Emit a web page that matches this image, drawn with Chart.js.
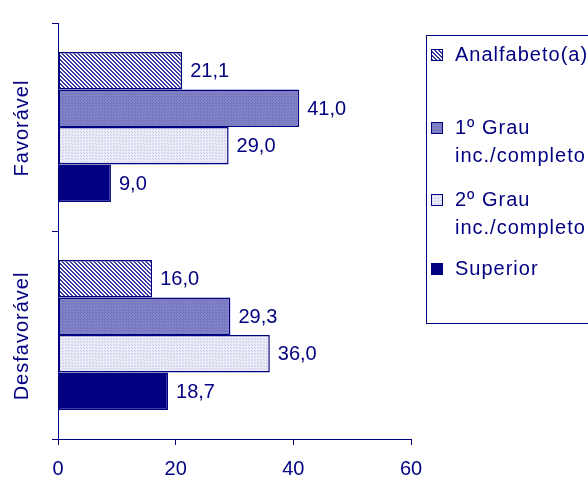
<!DOCTYPE html>
<html>
<head>
<meta charset="utf-8">
<script src="https://cdn.jsdelivr.net/npm/chart.js@4"></script>
<style>
  html, body { margin: 0; padding: 0; background: #fff; }
  #wrap { width: 588px; height: 477px; }
</style>
</head>
<body>
<div id="wrap"><canvas id="c" width="588" height="477"></canvas></div>
<script>
const categories = ["Favorável", "Desfavorável"];
const seriesNames = [["Analfabeto(a)"], ["1º Grau", "inc./completo"], ["2º Grau", "inc./completo"], ["Superior"]];
const analfabeto = [21.1, 16.0];
const grau1 = [41.0, 29.3];
const grau2 = [29.0, 36.0];
const superior = [9.0, 18.7];
const xTicks = [0, 20, 40, 60];

const NAVY = "#000080";
const FONT = "Arial, 'Liberation Sans', sans-serif";

// small pixel patterns like the old office fills
function makePattern(size, bg, fg, cells) {
  const p = document.createElement("canvas");
  p.width = size; p.height = size;
  const g = p.getContext("2d");
  g.fillStyle = bg;
  g.fillRect(0, 0, size, size);
  g.fillStyle = fg;
  cells.forEach(([x, y]) => g.fillRect(x, y, 1, 1));
  return g.createPattern(p, "repeat");
}
const ctx = document.getElementById("c").getContext("2d");
const patAnalf = makePattern(4, "#ffffff", "#3a3aa6",
  [[0,0],[1,0],[1,1],[2,1],[2,2],[3,2],[3,3],[0,3]]);
const patGrau1 = makePattern(3, "#8282c6", "#6a6ab8", [[0,0],[2,1]]);
const patGrau2 = makePattern(3, "#ececf8", "#c8c8e6", [[0,0],[2,2]]);

const fills = [patAnalf, patGrau1, patGrau2, NAVY];

const valueLabels = {
  id: "valueLabels",
  afterDatasetsDraw(chart) {
    const c = chart.ctx;
    c.save();
    c.font = "20px " + FONT;
    c.fillStyle = NAVY;
    c.textBaseline = "middle";
    c.textAlign = "left";
    chart.data.datasets.forEach((ds, i) => {
      chart.getDatasetMeta(i).data.forEach((bar, j) => {
        c.fillText(ds.data[j].toFixed(1).replace(".", ","), bar.x + 8, bar.y + 1);
      });
    });
    // category labels, rotated
    const ys = chart.scales.y;
    c.letterSpacing = "1px";
    c.textAlign = "center";
    categories.forEach((cat, j) => {
      c.save();
      c.translate(22, ys.getPixelForValue(j) + 1);
      c.rotate(-Math.PI / 2);
      c.fillText(cat, 0, 0);
      c.restore();
    });
    c.restore();
  }
};

const boxLegend = {
  id: "boxLegend",
  afterDraw(chart) {
    const c = chart.ctx;
    c.save();
    c.strokeStyle = NAVY;
    c.lineWidth = 1;
    c.strokeRect(426.5, 35.5, 170, 288);
    c.font = "20px " + FONT;
    c.letterSpacing = "1px";
    c.textBaseline = "middle";
    c.textAlign = "left";
    const rows = [54, 127, 199, 268];
    seriesNames.forEach((lines, i) => {
      const y = rows[i];
      c.fillStyle = fills[i];
      c.fillRect(431, y - 5, 11, 11);
      c.strokeStyle = NAVY;
      c.strokeRect(431.5, y - 4.5, 11, 11);
      c.fillStyle = NAVY;
      lines.forEach((t, k) => c.fillText(t, 455, y + 1 + k * 28));
    });
    c.restore();
  }
};

new Chart(ctx, {
  type: "bar",
  data: {
    labels: categories,
    datasets: [analfabeto, grau1, grau2, superior].map((d, i) => ({
      label: seriesNames[i].join(" "),
      data: d,
      backgroundColor: fills[i],
      borderColor: NAVY,
      borderWidth: 1.5,
      borderSkipped: false,
      categoryPercentage: 0.72,
      barPercentage: 1.0
    }))
  },
  options: {
    indexAxis: "y",
    responsive: false,
    animation: false,
    layout: { padding: { left: 52, right: 177, top: 23, bottom: -16 } },
    plugins: { legend: { display: false }, tooltip: { enabled: false } },
    scales: {
      x: {
        min: 0, max: 60,
        afterBuildTicks: axis => { axis.ticks = xTicks.map(v => ({ value: v })); },
        grid: { drawOnChartArea: false, color: NAVY, tickLength: 6, tickColor: NAVY },
        border: { color: NAVY, width: 1 },
        ticks: { color: NAVY, font: { size: 20, family: FONT }, padding: 12 }
      },
      y: {
        grid: { drawOnChartArea: false, offset: true, tickLength: 6, tickColor: NAVY },
        border: { color: NAVY, width: 1 },
        ticks: { display: false }
      }
    }
  },
  plugins: [valueLabels, boxLegend]
});
</script>
</body>
</html>
